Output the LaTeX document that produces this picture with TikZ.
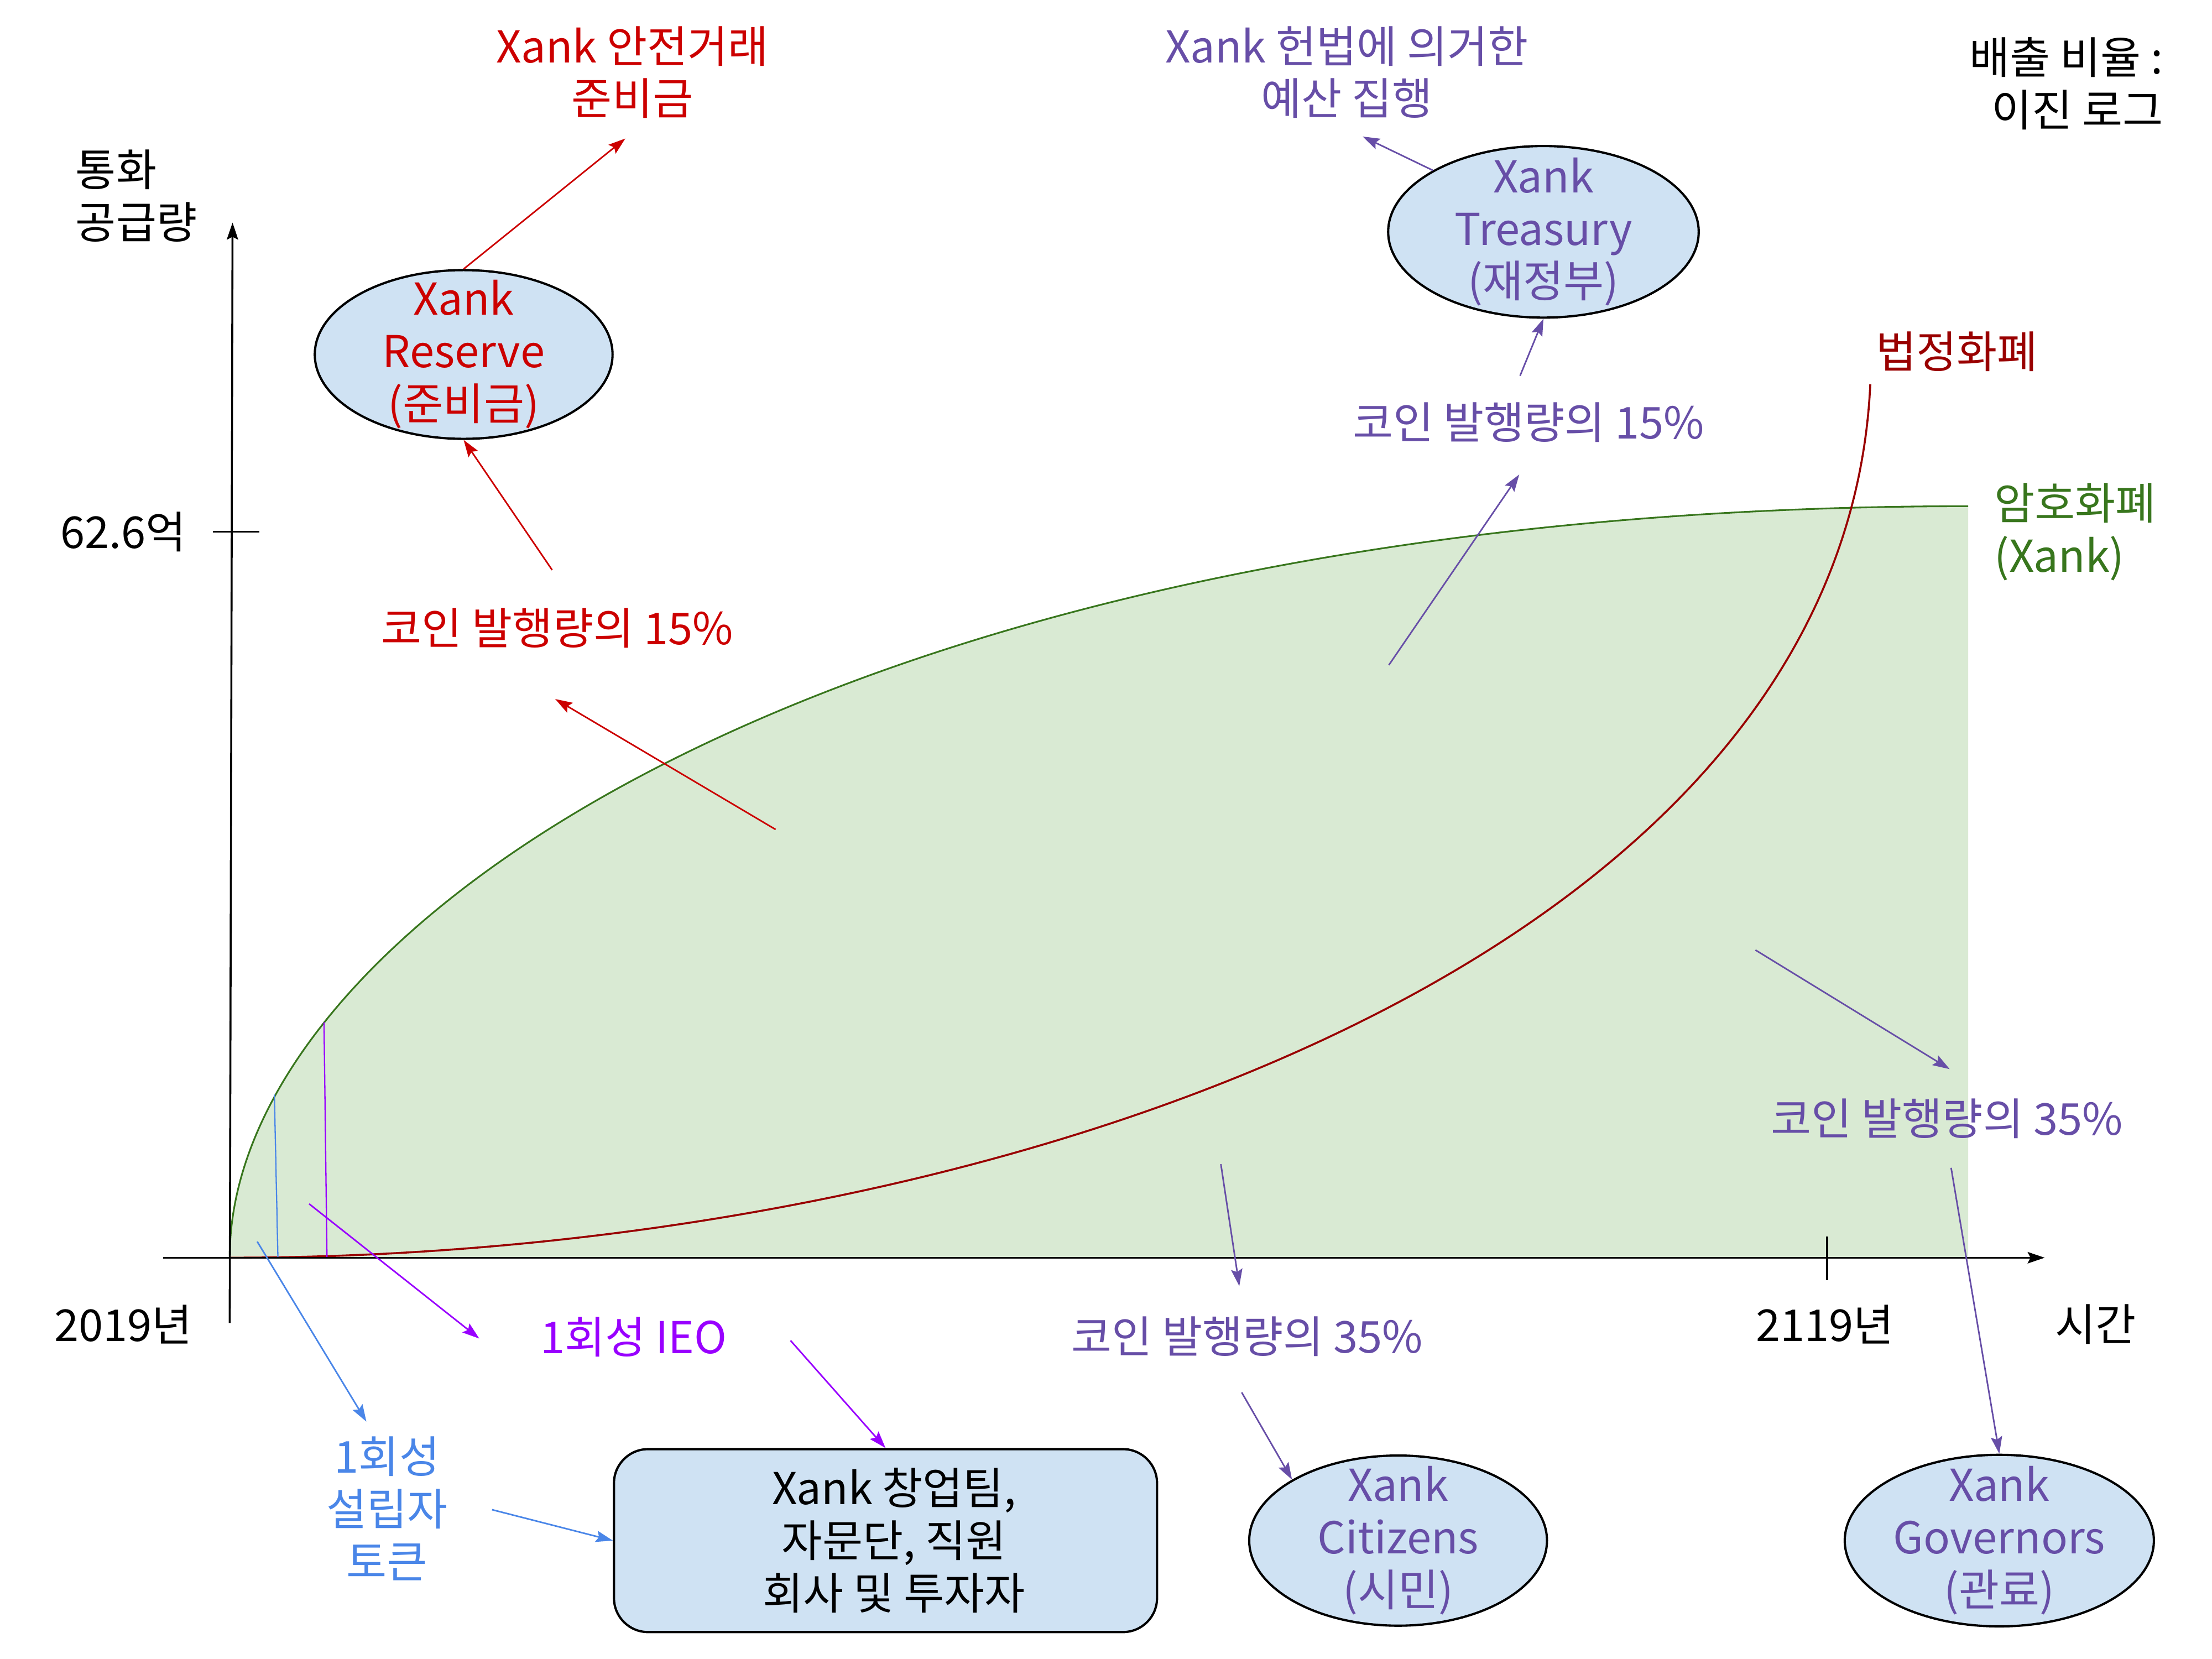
\documentclass[tikz,border=0pt]{standalone}
\usepackage{fontspec}
\setmainfont{Noto Sans CJK KR}
\usetikzlibrary{arrows.meta,shapes.geometric}

\definecolor{reserveRed}{HTML}{CC0000}
\definecolor{fiatRed}{HTML}{990000}
\definecolor{cryptoGreen}{HTML}{38761D}
\definecolor{cryptoFill}{HTML}{D9EAD3}
\definecolor{govPurple}{HTML}{674EA7}
\definecolor{ieoViolet}{HTML}{9900FF}
\definecolor{founderBlue}{HTML}{4A86E8}
\definecolor{poolFill}{HTML}{CFE2F3}

\begin{document}
\begin{tikzpicture}[x=0.5pt,y=-0.5pt,->,>={Stealth[length=6pt,width=4pt,inset=1pt]},
  font=\fontsize{15.5}{18.5}\selectfont,
  pool node/.style={ellipse,draw=black,line width=0.8pt,fill=poolFill,
    inner sep=0pt,minimum width=105pt,minimum height=60pt},
  pool text/.style={align=center,inner sep=0pt},
  label node/.style={align=center,inner sep=0pt},
  flow/.style={line width=0.55pt}]

  \useasboundingbox (0,0) rectangle (1560,1170);

  % supply curves
  \fill[cryptoFill] (162,887) .. controls (162,650) and (600,357) .. (1388,357)
    -- (1388,887) -- cycle;
  \draw[-,cryptoGreen,line width=0.6pt] (162,887) .. controls (162,650) and (600,357) .. (1388,357);
  \draw[-,fiatRed,line width=0.7pt] (162,887) .. controls (700,887) and (1300,680) .. (1319,271);
  \draw[-,founderBlue,line width=0.45pt] (193.5,772) -- (196,887);
  \draw[-,ieoViolet,line width=0.45pt] (228.5,721) -- (230.6,887);

  % axes
  \draw[line width=0.7pt] (115,887) -- (1442,887);
  \draw[line width=0.7pt] (162,933) -- (164,157);
  \draw[-,line width=0.7pt] (150,375) -- (183,375);
  \draw[-,line width=0.7pt] (1288.5,872) -- (1288.5,903);

  \node[label node,align=left,anchor=west] (supply) at (53,138) {통화\\공급량};
  \node[label node] (cap) at (87,375) {62.6억};
  \node[label node] (start) at (87,934) {2019년};
  \node[label node] (end) at (1287,934) {2119년};
  \node[label node] (time) at (1478,934) {시간};
  \node[label node,align=right,anchor=east] (ratio) at (1526,59) {배출 비율 :\\이진 로그};
  \node[label node,text=fiatRed] (fiat) at (1380,248) {법정화폐};
  \node[label node,align=left,anchor=west,text=cryptoGreen] (crypto) at (1406,375) {암호화폐\\(Xank)};

  % pools
  \node[pool node,minimum height=59.5pt,
    label={[pool text,text=reserveRed]center:{Xank\\Reserve\\(준비금)}}] (reserve) at (327,250) {};
  \node[pool node,minimum width=109.5pt,minimum height=60.5pt,
    label={[pool text,text=govPurple]center:{Xank\\Treasury\\(재정부)}}] (treasury) at (1088.5,163.5) {};
  \node[pool node,minimum width=105pt,minimum height=60pt,
    label={[pool text,text=govPurple]center:{Xank\\Citizens\\(시민)}}] (citizens) at (986,1086.5) {};
  \node[pool node,minimum width=109pt,minimum height=60.5pt,
    label={[pool text,text=govPurple]center:{Xank\\Governors\\(관료)}}] (governors) at (1410,1086.5) {};
  \node[rectangle,rounded corners=12pt,draw=black,line width=0.8pt,fill=poolFill,
    inner sep=0pt,minimum width=191.5pt,minimum height=64.5pt,
    label={[pool text,xshift=3pt]center:{Xank 창업팀,\\자문단, 직원\\회사 및 투자자}}] (founders) at (624.5,1086.5) {};

  \node[label node,text=reserveRed] (safe) at (446,51) {Xank 안전거래\\준비금};
  \node[label node,text=govPurple] (budget) at (950,51) {Xank 헌법에 의거한\\예산 집행};
  \node[label node,text=reserveRed] (reserveshare) at (393,443) {코인 발행량의 15\%};
  \node[label node,text=govPurple] (treasuryshare) at (1078,298) {코인 발행량의 15\%};
  \node[label node,text=govPurple] (citizenshare) at (879.5,942.5) {코인 발행량의 35\%};
  \node[label node,text=govPurple] (governorshare) at (1373,789) {코인 발행량의 35\%};
  \node[label node,text=ieoViolet] (ieo) at (447,943) {1회성 IEO};
  \node[label node,text=founderBlue] (founder) at (273,1064) {1회성\\설립자\\토큰};

  % flow ends
  \coordinate (r1) at (547,585);  \coordinate (r1t) at (391.6,493);
  \coordinate (r2) at (389.4,402); \coordinate (r3) at (441,97.7);
  \coordinate (t1) at (979.5,469); \coordinate (t1t) at (1071.4,334.7);
  \coordinate (t2) at (1072,265); \coordinate (t3) at (961,96.3);
  \coordinate (c1) at (861,821);  \coordinate (c1t) at (874,907);
  \coordinate (c2) at (875.7,982);
  \coordinate (g1) at (1238,670); \coordinate (g1t) at (1375,754);
  \coordinate (g2) at (1376,823.6);
  \coordinate (i1) at (218,849);  \coordinate (i1t) at (338,944);
  \coordinate (i2) at (557.5,945.4);
  \coordinate (f1) at (181.4,875.6); \coordinate (f1t) at (258.4,1002.6);
  \coordinate (f2) at (347,1064.7);

  \path[flow,color=reserveRed]
    (r1) edge (r1t)
    (r2) edge (reserve.south)
    (reserve.north) edge (r3);
  \path[flow,color=govPurple]
    (t1) edge (t1t)
    (t2) edge (treasury.south)
    (treasury.north west) edge (t3)
    (c1) edge (c1t)
    (c2) edge (citizens.north west)
    (g1) edge (g1t)
    (g2) edge (governors.north);
  \path[flow,color=ieoViolet]
    (i1) edge (i1t)
    (i2) edge (founders.north);
  \path[flow,color=founderBlue]
    (f1) edge (f1t)
    (f2) edge (founders.west);
\end{tikzpicture}
\end{document}
